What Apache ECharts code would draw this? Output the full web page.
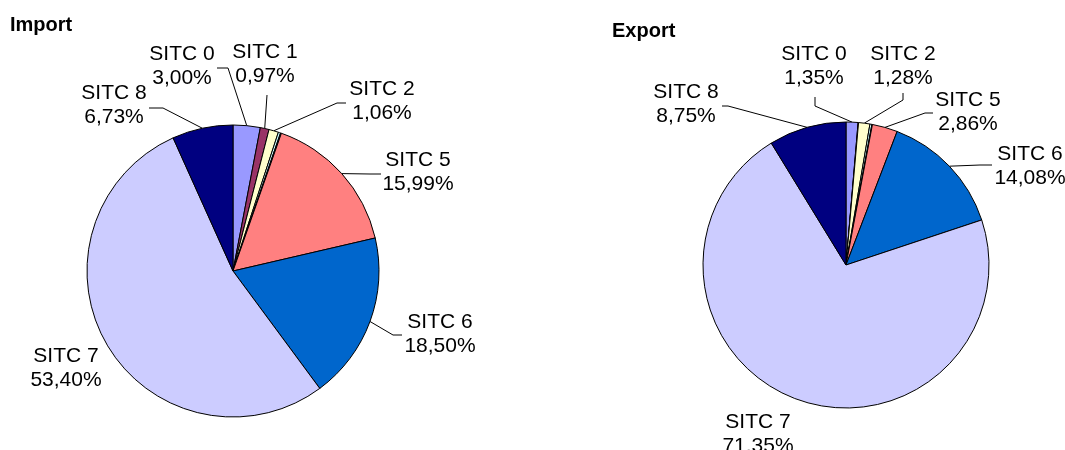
<!DOCTYPE html>
<html>
<head>
<meta charset="utf-8">
<script src="https://cdn.jsdelivr.net/npm/echarts@6/dist/echarts.min.js"></script>
<style>
  html, body { margin: 0; padding: 0; background: #fff; }
  #main { width: 1065px; height: 450px; }
</style>
</head>
<body>
<div id="main"></div>
<script>
// SITC groups, Excel default pie palette
var categories = ['SITC 0', 'SITC 1', 'SITC 2', 'SITC 3', 'SITC 4', 'SITC 5', 'SITC 6', 'SITC 7', 'SITC 8']
var colors = ['#9999FF', '#993366', '#FFFFCC', '#CCFFFF', '#660066', '#FF8080', '#0066CC', '#CCCCFF', '#000080']

// shares in %, the tiny unlabelled slices are estimates
var importValues = [3.00, 0.97, 1.06, 0.25, 0.10, 15.99, 18.50, 53.40, 6.73]
var exportValues = [1.35, 0.05, 1.28, 0.22, 0.06, 2.86, 14.08, 71.35, 8.75]

// where the labels sit: text centre, then the leader line bend and end (null = no line)
var importLabels = {
  'SITC 0': { at: [182, 66], line: [[228, 68], [217, 68]] },
  'SITC 1': { at: [265, 64], line: [[267, 95], [267, 95]] },
  'SITC 2': { at: [382, 101], line: [[337, 103], [346, 103]] },
  'SITC 5': { at: [418, 172], line: [[370, 174], [381, 174]] },
  'SITC 6': { at: [440, 334], line: [[393, 335], [402, 335]] },
  'SITC 7': { at: [66, 368], line: null },
  'SITC 8': { at: [114, 105], line: [[163, 108], [149, 108]] }
}
var exportLabels = {
  'SITC 0': { at: [814, 66], line: [[815, 106], [815, 97]] },
  'SITC 2': { at: [903, 66], line: [[903, 100], [903, 93]] },
  'SITC 5': { at: [968, 112], line: [[925, 113], [933, 113]] },
  'SITC 6': { at: [1030, 166], line: [[980, 165], [992, 165]] },
  'SITC 7': { at: [758, 434], line: null },
  'SITC 8': { at: [686, 104], line: [[728, 106], [722, 106]] }
}

var FONT = '"Liberation Sans", Arial, sans-serif'

function fmt (v) {
  return v.toFixed(2).replace('.', ',') + '%'
}

function buildData (values, labels) {
  var data = []
  for (var i = 0; i < categories.length; i++) {
    var lab = labels[categories[i]]
    data.push({
      name: categories[i],
      value: values[i],
      itemStyle: { color: colors[i] },
      label: { show: !!lab },
      labelLine: { show: !!(lab && lab.line) }
    })
  }
  return data
}

function pieSeries (values, labels, center, radius) {
  return {
    type: 'pie',
    center: center,
    radius: radius,
    startAngle: 90,
    clockwise: true,
    animation: false,
    silent: true,
    avoidLabelOverlap: false,
    itemStyle: { borderColor: '#000', borderWidth: 1 },
    label: {
      position: 'outside',
      alignTo: 'none',
      overflow: 'none',
      formatter: function (p) { return p.name + '\n' + fmt(p.value) },
      color: '#000',
      fontFamily: FONT,
      fontSize: 21,
      lineHeight: 24
    },
    labelLine: {
      length: 10,
      length2: 10,
      lineStyle: { color: '#000', width: 1 }
    },
    labelLayout: function (params) {
      var lab = labels[categories[params.dataIndex]]
      if (!lab) return
      var res = { x: lab.at[0], y: lab.at[1], align: 'center', verticalAlign: 'middle' }
      if (lab.line && params.labelLinePoints) {
        res.labelLinePoints = [params.labelLinePoints[0], lab.line[0], lab.line[1]]
      }
      return res
    },
    data: buildData(values, labels)
  }
}

var myChart = echarts.init(document.getElementById('main'), null, { renderer: 'canvas' })
myChart.setOption({
  backgroundColor: '#fff',
  title: [
    { text: 'Import', left: 10, top: 15, padding: 0, textStyle: { fontFamily: FONT, fontSize: 20, fontWeight: 'bold', color: '#000' } },
    { text: 'Export', left: 612, top: 21, padding: 0, textStyle: { fontFamily: FONT, fontSize: 20, fontWeight: 'bold', color: '#000' } }
  ],
  series: [
    pieSeries(importValues, importLabels, [233, 271], 146),
    pieSeries(exportValues, exportLabels, [846, 265], 143)
  ]
})
</script>
</body>
</html>
